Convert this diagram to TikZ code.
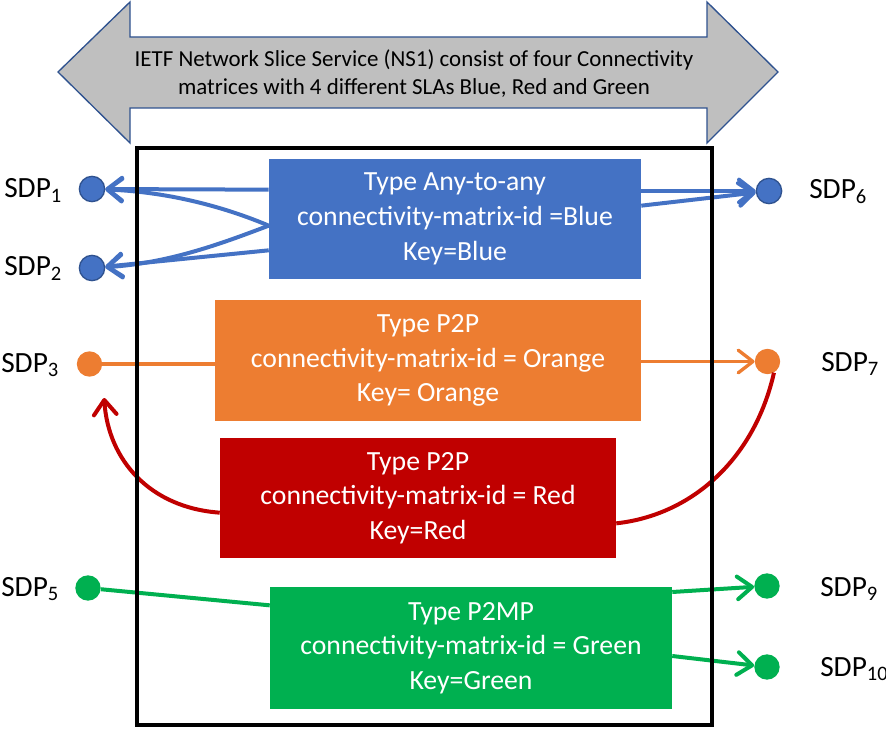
\documentclass[tikz,border=0pt]{standalone}
\usepackage{fontspec}
\setmainfont{Carlito}
\usetikzlibrary{arrows.meta}

\definecolor{nsblue}{HTML}{4472C4}
\definecolor{nsedge}{HTML}{2F528F}
\definecolor{nsorange}{HTML}{ED7D31}
\definecolor{nsred}{HTML}{C00000}
\definecolor{nsgreen}{HTML}{00B050}
\definecolor{nsgray}{HTML}{BFBFBF}

\begin{document}
\begin{tikzpicture}[x=0.75pt,y=-0.75pt,
  cmatrix/.style={rectangle,align=center,text=white,inner sep=0pt,font=\fontsize{20.8}{26}\selectfont},
  sdp/.style={circle,inner sep=0pt,minimum size=19pt},
  sdplabel/.style={inner sep=0pt,anchor=base west,font=\fontsize{22}{26}\selectfont},
  blueline/.style={nsblue,line width=3pt},
  orangeline/.style={nsorange,line width=2.5pt},
  redline/.style={nsred,line width=3pt},
  greenline/.style={nsgreen,line width=3pt},
  >={Straight Barb[length=11pt,width=17pt,round]}]
\useasboundingbox (0,0) rectangle (886,731);

% double arrow on top
\draw[nsedge,fill=nsgray,line width=1pt] (58,72) -- (130,2) -- (130,37) -- (707,37) -- (707,2) -- (778,72)
  -- (707,143) -- (707,108) -- (130,108) -- (130,143) -- cycle;
\node[align=center,font=\fontsize{17.2}{21}\selectfont] (ns) at (414,74) {IETF Network Slice Service (NS1) consist of four Connectivity\\ matrices with 4 different SLAs Blue, Red and Green};

% connectivity matrices
\node[cmatrix,fill=nsblue,minimum width=279pt,minimum height=90pt] (blue) at (455,219) {Type Any-to-any\\ connectivity-matrix-id =Blue\\ Key=Blue};
\node[cmatrix,fill=nsorange,minimum width=319.5pt,minimum height=90.75pt] (orange) at (428,360.5) {Type P2P\\ connectivity-matrix-id = Orange\\ Key= Orange};
\node[cmatrix,fill=nsred,minimum width=297pt,minimum height=90pt] (red) at (418,498) {Type P2P\\ connectivity-matrix-id = Red\\ Key=Red};
\node[cmatrix,fill=nsgreen,minimum width=301.5pt,minimum height=91.5pt] (green) at (471,648) {Type P2MP\\ connectivity-matrix-id = Green\\ Key=Green};

% SDPs
\node[sdp,fill=nsblue,draw=nsedge,line width=1pt] (d1) at (92,189) {};
\node[sdp,fill=nsblue,draw=nsedge,line width=1pt] (d2) at (92,268) {};
\node[sdp,fill=nsorange] (d3) at (89.5,364) {};
\node[sdp,fill=nsgreen] (d5) at (88,588) {};
\node[sdp,fill=nsblue,draw=nsedge,line width=1pt] (d6) at (769,191) {};
\node[sdp,fill=nsorange] (d7) at (767.5,361.5) {};
\node[sdp,fill=nsgreen] (d9) at (767,586) {};
\node[sdp,fill=nsgreen] (d10) at (767,667) {};

\node[sdplabel] (l1) at (4,198) {SDP\textsubscript{1}};
\node[sdplabel] (l2) at (4,276) {SDP\textsubscript{2}};
\node[sdplabel] (l3) at (1,372) {SDP\textsubscript{3}};
\node[sdplabel] (l5) at (1,596) {SDP\textsubscript{5}};
\node[sdplabel] (l6) at (809,199) {SDP\textsubscript{6}};
\node[sdplabel] (l7) at (821,371) {SDP\textsubscript{7}};
\node[sdplabel] (l9) at (820,596) {SDP\textsubscript{9}};
\node[sdplabel] (l10) at (820,676) {SDP\textsubscript{10}};

% blue
\draw[blueline,->] ([yshift=22pt]blue.west) -- (d1);
\draw[blueline,->] ([yshift=-5pt]blue.west) .. controls +(-40,-17) and +(80,3) .. (d1);
\draw[blueline,->] ([yshift=-5pt]blue.west) .. controls +(-40,15) and +(80,-5) .. (d2);
\draw[blueline,->] ([yshift=-23.5pt]blue.west) -- (d2);
\draw[blueline,->] ([yshift=21pt]blue.east) -- (d6);
\draw[blueline,->] ([yshift=10pt]blue.east) -- (d6);

% orange
\draw[orangeline] (d3) -- (d3 -| orange.west);
\draw[orangeline,->] (d7 -| orange.east) -- (d7);

% red
\draw[redline,->] ([yshift=-11pt]red.west) .. controls +(-70,-5) and +(4,62) .. ([xshift=11pt,yshift=-25.5pt]d3.center);
\draw[redline] ([yshift=-19pt]red.east) .. controls +(74,-8) and +(-20,88) .. (d7.-60);

% green
\draw[greenline] (d5) -- ([yshift=32pt]green.west);
\draw[greenline,->] ([yshift=42pt]green.east) -- (d9);
\draw[greenline,->] ([yshift=-6pt]green.east) -- (d10);

\draw[line width=3pt] (137,148) rectangle (712,725);
\end{tikzpicture}
\end{document}
